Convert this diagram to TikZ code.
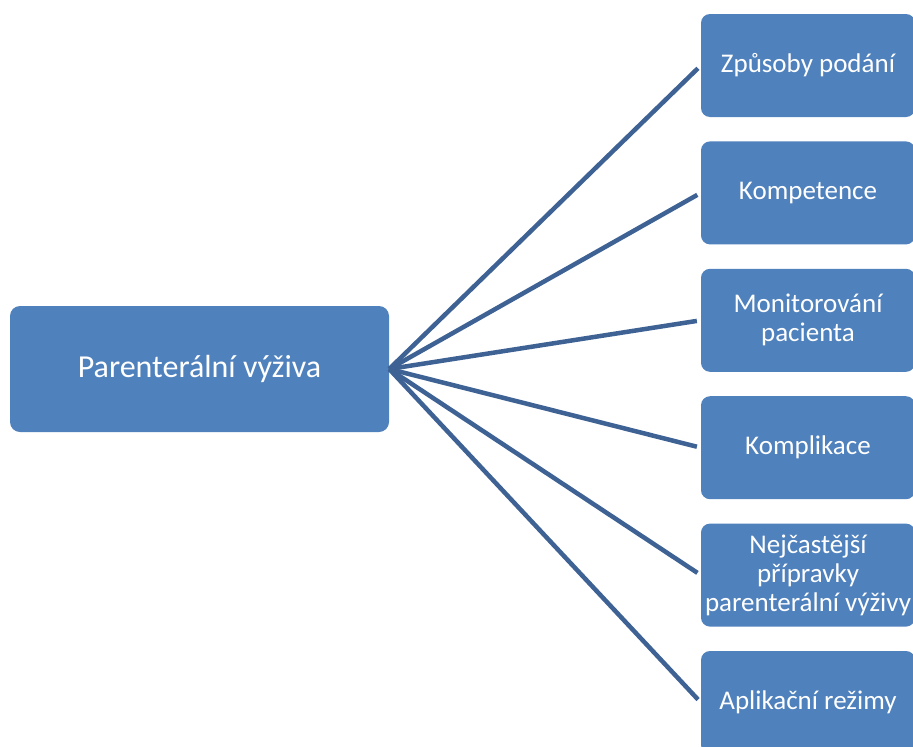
\documentclass[tikz,border=0pt]{standalone}
\usepackage{fontspec}
\setmainfont{Carlito}
\usetikzlibrary{positioning}
\definecolor{boxfill}{RGB}{79,129,189}
\definecolor{linkcol}{RGB}{62,98,148}

\begin{document}
\begin{tikzpicture}[
      x=1pt, y=-1pt,
      node distance=24pt,
      topic/.style={fill=boxfill, rounded corners=9pt, text=white, align=center,
                    inner sep=2pt, minimum width=214pt, minimum height=103pt,
                    font=\fontsize{27}{29}\selectfont},
      hub/.style={fill=boxfill, rounded corners=10pt, text=white,
                  minimum width=379pt, minimum height=126pt,
                  font=\fontsize{32}{36}\selectfont},
      link/.style={line width=4.5pt, linkcol, shorten >=4pt}
    ]
    \clip (0,0) rectangle (913,747);
    \fill[white] (0,0) rectangle (913,747);

    \node[hub] (pv) at (199.5,369) {Parenterální výživa};

    \node[topic] (zp) at (808,65.5) {Způsoby podání};
    \node[topic, below=of zp] (ko) {Kompetence};
    \node[topic, below=of ko] (mo) {Monitorování\\pacienta};
    \node[topic, below=of mo] (kl) {Komplikace};
    \node[topic, below=of kl] (np) {Nejčastější\\přípravky\\parenterální výživy};
    \node[topic, below=of np] (ar) {Aplikační režimy};

    \foreach \t in {zp,ko,mo,kl,np,ar}
      \draw[link] (pv.east) -- (\t.west);
  \end{tikzpicture}
\end{document}
